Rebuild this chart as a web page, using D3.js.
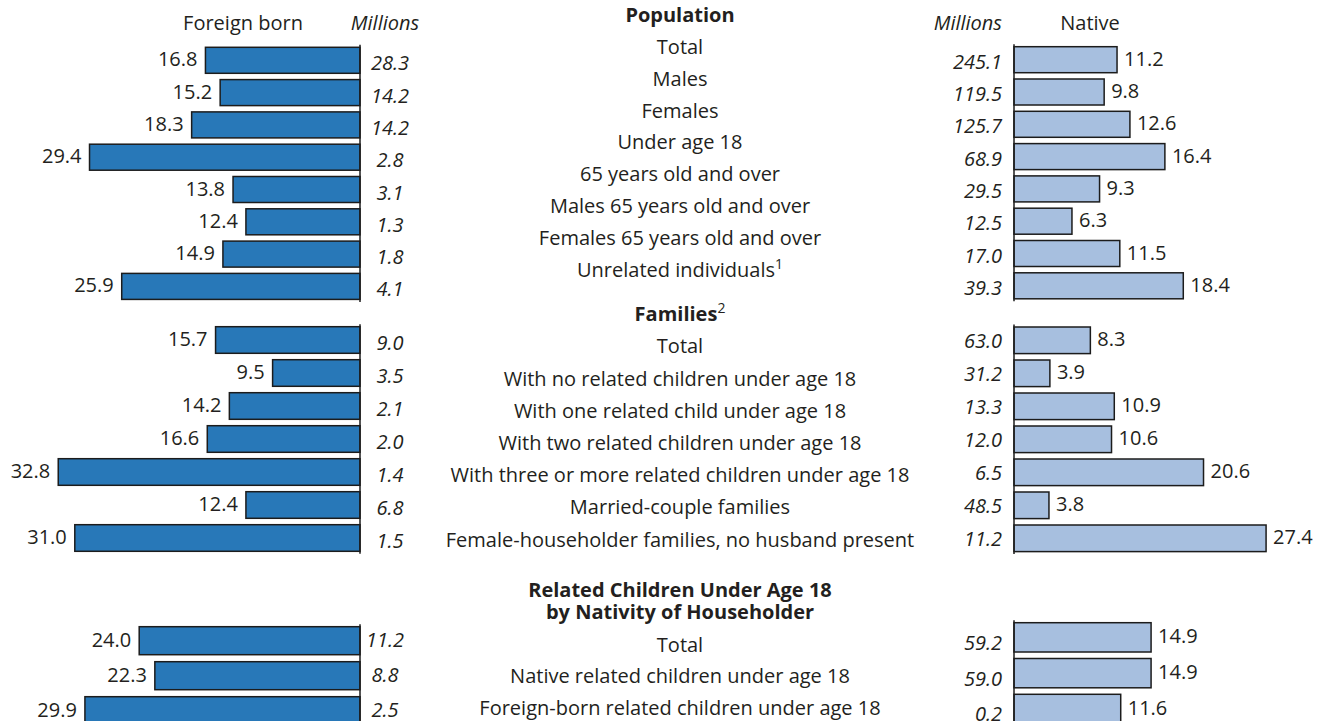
<!DOCTYPE html>
<html>
<head>
<meta charset="utf-8">
<script src="https://cdn.jsdelivr.net/npm/d3@7"></script>
<style>
  html, body { margin: 0; padding: 0; background: #ffffff; }
  svg text { font-family: "Open Sans", "Noto Sans", sans-serif; fill: #231f20; }
</style>
</head>
<body>
<svg id="chart" width="1326" height="721"></svg>
<script>
// Poverty rates (percent) and population counts (millions) by nativity
const popCategories = ["Total", "Males", "Females", "Under age 18", "65 years old and over",
  "Males 65 years old and over", "Females 65 years old and over", "Unrelated individuals"];
const popForeign = [16.8, 15.2, 18.3, 29.4, 13.8, 12.4, 14.9, 25.9];
const popForeignMillions = [28.3, 14.2, 14.2, 2.8, 3.1, 1.3, 1.8, 4.1];
const popNative = [11.2, 9.8, 12.6, 16.4, 9.3, 6.3, 11.5, 18.4];
const popNativeMillions = [245.1, 119.5, 125.7, 68.9, 29.5, 12.5, 17.0, 39.3];

const famCategories = ["Total", "With no related children under age 18",
  "With one related child under age 18", "With two related children under age 18",
  "With three or more related children under age 18", "Married-couple families",
  "Female-householder families, no husband present"];
const famForeign = [15.7, 9.5, 14.2, 16.6, 32.8, 12.4, 31.0];
const famForeignMillions = [9.0, 3.5, 2.1, 2.0, 1.4, 6.8, 1.5];
const famNative = [8.3, 3.9, 10.9, 10.6, 20.6, 3.8, 27.4];
const famNativeMillions = [63.0, 31.2, 13.3, 12.0, 6.5, 48.5, 11.2];

const kidCategories = ["Total", "Native related children under age 18",
  "Foreign-born related children under age 18"];
const kidForeign = [24.0, 22.3, 29.9];
const kidForeignMillions = [11.2, 8.8, 2.5];
const kidNative = [14.9, 14.9, 11.6];
const kidNativeMillions = [59.2, 59.0, 0.2];

const headerLabels = ["Foreign born", "Millions", "Millions", "Native"];

const svg = d3.select("#chart");
const FONT = 20;
const COLOR_FOREIGN = "#2878b8";
const COLOR_NATIVE = "#a7bfdf";
const STROKE = "#1c1c1c";

// Shared rate scale (percent -> pixel length), mirrored on each side
const len = d3.scaleLinear().domain([0, 35]).range([0, 322]);
const leftAxisX = 360;
const rightAxisX = 1014;
const centerX = 680;

// Column headers
svg.append("text").attr("x", 243).attr("y", 30).attr("text-anchor", "middle")
  .attr("font-size", FONT).text(headerLabels[0]);
svg.append("text").attr("x", 385).attr("y", 30).attr("text-anchor", "middle")
  .attr("font-size", FONT).attr("font-style", "italic").text(headerLabels[1]);
svg.append("text").attr("x", 1002).attr("y", 30).attr("text-anchor", "end")
  .attr("font-size", FONT).attr("font-style", "italic").text(headerLabels[2]);
svg.append("text").attr("x", 1090).attr("y", 30).attr("text-anchor", "middle")
  .attr("font-size", FONT).text(headerLabels[3]);

function band(n, top, step, h) {
  const gap = step - h;
  return d3.scaleBand().domain(d3.range(n))
    .range([top, top + n * step - gap]).paddingInner(gap / step).paddingOuter(0);
}

function drawSection(cfg) {
  const n = cfg.categories.length;
  const yl = band(n, cfg.leftTop, cfg.leftStep, cfg.leftH);
  const yr = band(n, cfg.rightTop, cfg.rightStep, cfg.rightH);
  const g = svg.append("g");

  // Foreign-born bars grow leftward from the left axis
  g.selectAll(".fb").data(cfg.foreign).join("rect")
    .attr("x", d => leftAxisX - len(d)).attr("y", (d, i) => yl(i))
    .attr("width", d => len(d)).attr("height", yl.bandwidth())
    .attr("fill", COLOR_FOREIGN).attr("stroke", STROKE).attr("stroke-width", 1.5);
  g.selectAll(".fbl").data(cfg.foreign).join("text")
    .attr("x", d => leftAxisX - len(d) - 8).attr("y", (d, i) => yl(i) + yl.bandwidth() / 2 + 6)
    .attr("text-anchor", "end").attr("font-size", FONT).text(d => d.toFixed(1));
  g.selectAll(".fbm").data(cfg.foreignMillions).join("text")
    .attr("x", cfg.leftMillX).attr("y", (d, i) => yl(i) + yl.bandwidth() / 2 + cfg.leftMillDy)
    .attr("text-anchor", "middle").attr("font-size", FONT).attr("font-style", "italic")
    .text(d => d.toFixed(1));
  g.append("line").attr("x1", leftAxisX).attr("x2", leftAxisX)
    .attr("y1", yl(0) - 2.5).attr("y2", yl(n - 1) + yl.bandwidth() + 2.5)
    .attr("stroke", STROKE).attr("stroke-width", 1.5);

  // Native bars grow rightward from the right axis
  g.selectAll(".nb").data(cfg.native).join("rect")
    .attr("x", rightAxisX).attr("y", (d, i) => yr(i))
    .attr("width", d => len(d)).attr("height", yr.bandwidth())
    .attr("fill", COLOR_NATIVE).attr("stroke", STROKE).attr("stroke-width", 1.5);
  g.selectAll(".nbl").data(cfg.native).join("text")
    .attr("x", d => rightAxisX + len(d) + 7).attr("y", (d, i) => yr(i) + yr.bandwidth() / 2 + 6)
    .attr("font-size", FONT).text(d => d.toFixed(1));
  g.selectAll(".nbm").data(cfg.nativeMillions).join("text")
    .attr("x", 1002).attr("y", (d, i) => yr(i) + yr.bandwidth() / 2 + cfg.rightMillDy)
    .attr("text-anchor", "end").attr("font-size", FONT).attr("font-style", "italic")
    .text(d => d.toFixed(1));
  g.append("line").attr("x1", rightAxisX).attr("x2", rightAxisX)
    .attr("y1", yr(0) - 2.5).attr("y2", yr(n - 1) + yr.bandwidth() + 2.5)
    .attr("stroke", STROKE).attr("stroke-width", 1.5);

  // Section title lines
  cfg.title.forEach((t, i) => {
    const tx = g.append("text").attr("x", centerX).attr("y", cfg.titleY[i])
      .attr("text-anchor", "middle").attr("font-size", FONT);
    tx.append("tspan").attr("font-weight", "bold").text(t.text);
    if (t.sup) tx.append("tspan").attr("font-size", 14).attr("dy", -8).text(t.sup);
  });

  // Category labels in the middle column
  g.selectAll(".cat").data(cfg.categories).join("text")
    .attr("x", centerX).attr("y", (d, i) => cfg.labelTop + i * cfg.labelStep)
    .attr("text-anchor", "middle").attr("font-size", FONT)
    .each(function (d) {
      const t = d3.select(this);
      t.append("tspan").text(d);
      if (cfg.sups && cfg.sups[d]) t.append("tspan").attr("font-size", 14).attr("dy", -8).text(cfg.sups[d]);
    });
}

drawSection({
  categories: popCategories, foreign: popForeign, foreignMillions: popForeignMillions,
  native: popNative, nativeMillions: popNativeMillions,
  leftTop: 47.3, leftStep: 32.3, leftH: 26, rightTop: 46.7, rightStep: 32.3, rightH: 26,
  leftMillX: 390, leftMillDy: 10, rightMillDy: 9,
  title: [{ text: "Population" }], titleY: [22],
  labelTop: 54, labelStep: 31.8,
  sups: { "Unrelated individuals": "1" }
});

drawSection({
  categories: famCategories, foreign: famForeign, foreignMillions: famForeignMillions,
  native: famNative, nativeMillions: famNativeMillions,
  leftTop: 326.7, leftStep: 33, leftH: 26.6, rightTop: 327, rightStep: 33, rightH: 26.6,
  leftMillX: 390, leftMillDy: 10, rightMillDy: 8,
  title: [{ text: "Families", sup: "2" }], titleY: [321],
  labelTop: 353.3, labelStep: 32.2
});

drawSection({
  categories: kidCategories, foreign: kidForeign, foreignMillions: kidForeignMillions,
  native: kidNative, nativeMillions: kidNativeMillions,
  leftTop: 626.7, leftStep: 35, leftH: 28, rightTop: 622.7, rightStep: 35.8, rightH: 29.3,
  leftMillX: 385, leftMillDy: 6, rightMillDy: 12.5,
  title: [{ text: "Related Children Under Age 18" }, { text: "by Nativity of Householder" }],
  titleY: [597, 619],
  labelTop: 651.7, labelStep: 31.7
});
</script>
</body>
</html>
